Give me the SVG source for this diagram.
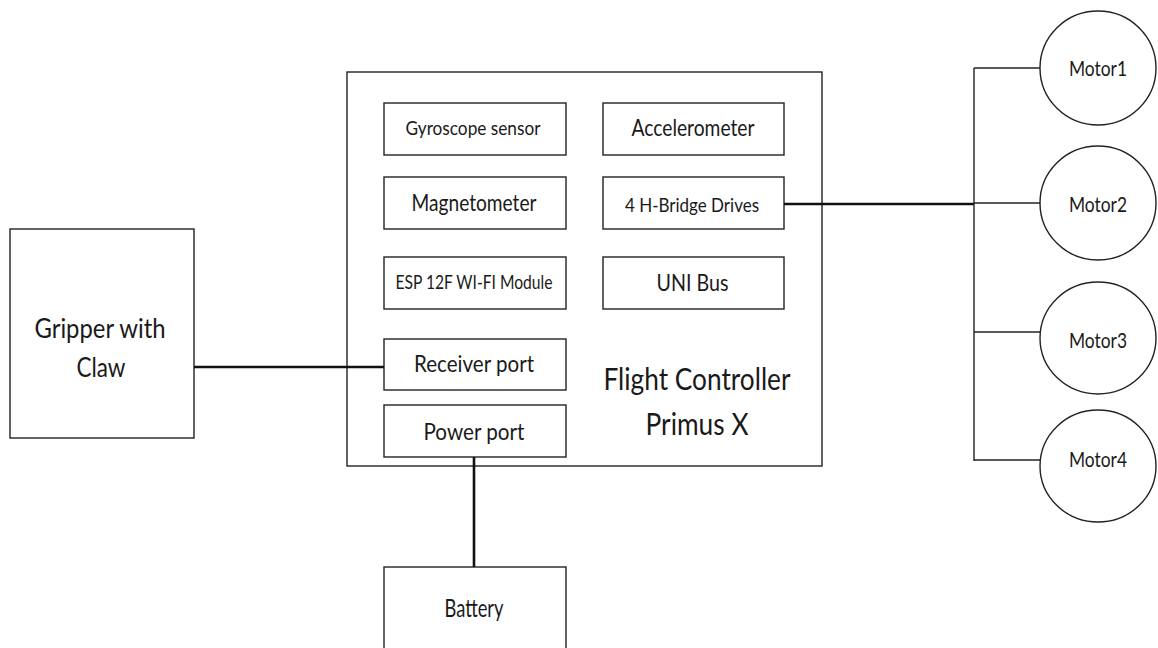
<svg xmlns="http://www.w3.org/2000/svg" width="1158" height="648" viewBox="0 0 1158 648">
<style>
.box{fill:#fff;stroke:#222;stroke-width:1.4}
.t{font-family:Lato,"Liberation Sans",sans-serif;fill:#1a1a1a;text-anchor:middle}
.thick{stroke:#111;stroke-width:2.6;fill:none}
.thin{stroke:#222;stroke-width:1.4;fill:none}
</style>
<rect width="1158" height="648" fill="#fff"/>
<g id="flight-controller">
<rect class="box" x="347" y="72" width="475" height="394"/>
<text class="t" x="697" y="390" font-size="30" textLength="187" lengthAdjust="spacingAndGlyphs">Flight Controller</text>
<text class="t" x="697" y="435" font-size="30" textLength="103" lengthAdjust="spacingAndGlyphs">Primus X</text>
</g>
<g id="gyroscope"><rect class="box" x="384" y="103" width="182" height="52"/><text class="t" x="473" y="135" font-size="18.5" textLength="135" lengthAdjust="spacingAndGlyphs">Gyroscope sensor</text></g>
<g id="accelerometer"><rect class="box" x="603" y="103" width="181" height="52"/><text class="t" x="693" y="136" font-size="23" textLength="123" lengthAdjust="spacingAndGlyphs">Accelerometer</text></g>
<g id="magnetometer"><rect class="box" x="384" y="177" width="182" height="52"/><text class="t" x="474" y="211" font-size="23" textLength="125" lengthAdjust="spacingAndGlyphs">Magnetometer</text></g>
<g id="hbridge"><rect class="box" x="603" y="177" width="181" height="52"/><text class="t" x="692" y="212" font-size="19.5" textLength="134" lengthAdjust="spacingAndGlyphs">4 H-Bridge Drives</text></g>
<g id="esp"><rect class="box" x="384" y="257" width="182" height="52"/><text class="t" x="474" y="289" font-size="20" textLength="157" lengthAdjust="spacingAndGlyphs">ESP 12F WI-FI Module</text></g>
<g id="unibus"><rect class="box" x="603" y="257" width="181" height="52"/><text class="t" x="692.5" y="291" font-size="24" textLength="72" lengthAdjust="spacingAndGlyphs">UNI Bus</text></g>
<g id="receiver"><rect class="box" x="384" y="339" width="182" height="51"/><text class="t" x="474" y="372" font-size="23" textLength="120" lengthAdjust="spacingAndGlyphs">Receiver port</text></g>
<g id="power"><rect class="box" x="384" y="405" width="182" height="52"/><text class="t" x="474" y="440" font-size="24" textLength="101" lengthAdjust="spacingAndGlyphs">Power port</text></g>
<g id="gripper"><rect class="box" x="10" y="229" width="184" height="209"/><text class="t" x="100" y="338" font-size="27" textLength="131" lengthAdjust="spacingAndGlyphs">Gripper with</text><text class="t" x="101" y="377" font-size="27" textLength="49" lengthAdjust="spacingAndGlyphs">Claw</text></g>
<g id="battery"><rect class="box" x="384" y="567" width="182" height="90"/><text class="t" x="474" y="617" font-size="25" textLength="59" lengthAdjust="spacingAndGlyphs">Battery</text></g>
<g id="motor1"><ellipse class="box" cx="1098" cy="68" rx="58" ry="57"/><text class="t" x="1098" y="76" font-size="21" textLength="58" lengthAdjust="spacingAndGlyphs">Motor1</text></g>
<g id="motor2"><ellipse class="box" cx="1098" cy="203" rx="58" ry="57"/><text class="t" x="1098" y="212" font-size="21" textLength="58" lengthAdjust="spacingAndGlyphs">Motor2</text></g>
<g id="motor3"><ellipse class="box" cx="1098" cy="338" rx="58" ry="56"/><text class="t" x="1098" y="348" font-size="21" textLength="58" lengthAdjust="spacingAndGlyphs">Motor3</text></g>
<g id="motor4"><ellipse class="box" cx="1098" cy="466" rx="58" ry="56"/><text class="t" x="1098" y="467" font-size="21" textLength="58" lengthAdjust="spacingAndGlyphs">Motor4</text></g>
<g id="connectors">
<line class="thick" x1="194" y1="367" x2="384" y2="367"/>
<line class="thick" x1="474" y1="457" x2="474" y2="567"/>
<line class="thick" x1="784" y1="204" x2="974" y2="204"/>
<line class="thin" x1="974" y1="68" x2="974" y2="461"/>
<line class="thin" x1="974" y1="68" x2="1040" y2="68"/>
<line class="thin" x1="974" y1="203" x2="1040" y2="203"/>
<line class="thin" x1="974" y1="332" x2="1040" y2="332"/>
<line class="thin" x1="974" y1="460" x2="1040" y2="460"/>
</g>
</svg>
